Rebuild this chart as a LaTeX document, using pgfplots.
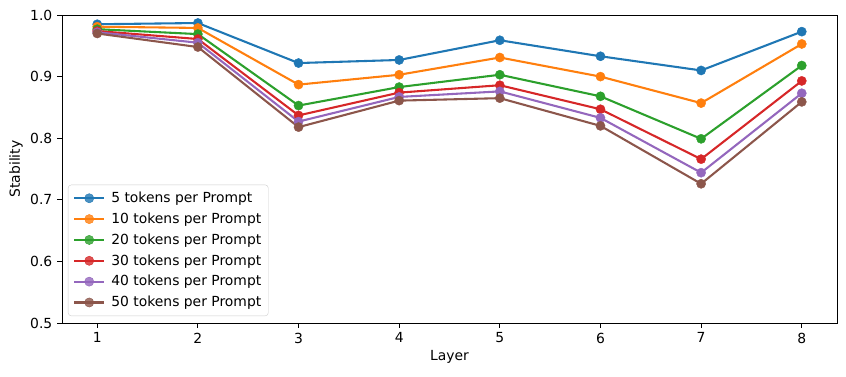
\documentclass[border=0pt]{standalone}
\usepackage{pgfplots}
\pgfplotsset{compat=1.18}
\usepackage{fontspec}
\setmainfont{DejaVu Sans}
\definecolor{c1}{HTML}{1F77B4}
\definecolor{c2}{HTML}{FF7F0E}
\definecolor{c3}{HTML}{2CA02C}
\definecolor{c4}{HTML}{D62728}
\definecolor{c5}{HTML}{9467BD}
\definecolor{c6}{HTML}{8C564B}
\begin{document}
\fontsize{13.9}{16}\selectfont
\begin{tikzpicture}
\path[use as bounding box] (-62pt,-53pt) rectangle (784pt,323pt);
\begin{axis}[
  at={(0pt,0pt)}, anchor=south west,
  scale only axis, width=775pt, height=308pt,
  xmin=0.65, xmax=8.35, ymin=0.5, ymax=1.0,
  xtick={1,2,3,4,5,6,7,8},
  ytick={0.5,0.6,0.7,0.8,0.9,1.0},
  yticklabel style={/pgf/number format/.cd,fixed,fixed zerofill,precision=1},
  /pgf/number format/assume math mode=true,
  tick align=outside, major tick length=4.9pt,
  tick style={black, line width=0.8pt},
  xtick pos=bottom, ytick pos=left,
  axis line style={line width=0.8pt},
  ticklabel style={font=\fontsize{13.9}{16}\selectfont},
  xlabel={Layer}, ylabel={Stability},
  label style={font=\fontsize{13.9}{16}\selectfont},
  xlabel style={yshift=2pt},
  ylabel style={yshift=-2pt},
  every axis plot/.append style={line width=2.08pt, mark=*, mark size=4.6pt, mark options={solid, line width=0.4pt}},
  legend style={at={(6pt,7pt)}, anchor=south west, draw=black!20, rounded corners=3pt, fill=white, fill opacity=0.8, text opacity=1, font=\fontsize{13.9}{16}\selectfont, row sep=4.2pt, inner xsep=5pt, inner ysep=5pt,
    /tikz/every odd column/.style={column sep=4pt}},
  legend cell align=left,
  legend image code/.code={\draw[mark repeat=2,mark phase=2] plot coordinates {(0pt,0pt) (15pt,0pt) (30pt,0pt)};},
]
\addplot[c1] coordinates {(1,0.985) (2,0.987) (3,0.922) (4,0.927) (5,0.959) (6,0.933) (7,0.910) (8,0.973)};
\addplot[c2] coordinates {(1,0.981) (2,0.979) (3,0.887) (4,0.903) (5,0.931) (6,0.900) (7,0.857) (8,0.953)};
\addplot[c3] coordinates {(1,0.977) (2,0.969) (3,0.853) (4,0.883) (5,0.903) (6,0.868) (7,0.799) (8,0.918)};
\addplot[c4] coordinates {(1,0.974) (2,0.961) (3,0.837) (4,0.874) (5,0.886) (6,0.847) (7,0.766) (8,0.893)};
\addplot[c5] coordinates {(1,0.972) (2,0.955) (3,0.827) (4,0.867) (5,0.876) (6,0.833) (7,0.744) (8,0.873)};
\addplot[c6] coordinates {(1,0.970) (2,0.948) (3,0.818) (4,0.861) (5,0.865) (6,0.820) (7,0.726) (8,0.859)};
\legend{5 tokens per Prompt,10 tokens per Prompt,20 tokens per Prompt,30 tokens per Prompt,40 tokens per Prompt,50 tokens per Prompt}
\end{axis}
\end{tikzpicture}
\end{document}
